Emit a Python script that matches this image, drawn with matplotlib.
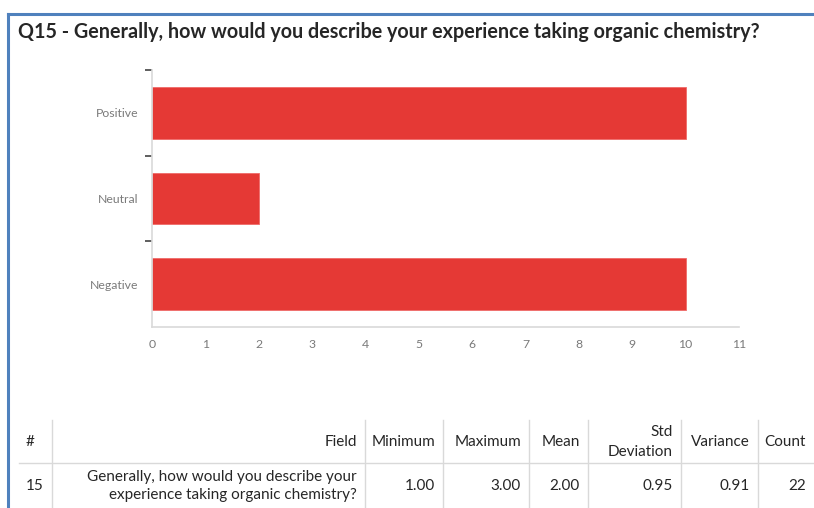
import matplotlib
matplotlib.use("Agg")
import matplotlib.pyplot as plt
from matplotlib.lines import Line2D

W, H = 814, 508

# survey answers and counts
categories = ["Negative", "Neutral", "Positive"]
counts = [10, 2, 10]
x_ticks = list(range(0, 12))

title = "Q15 - Generally, how would you describe your experience taking organic chemistry?"

# summary statistics table
col_headers = ["#", "Field", "Minimum", "Maximum", "Mean", "Std\nDeviation", "Variance", "Count"]
row_values = ["15", "Generally, how would you describe your\nexperience taking organic chemistry?",
              "1.00", "3.00", "2.00", "0.95", "0.91", "22"]

BAR_RED = "#e53935"
GRID_GRAY = "#d9d9d9"
FRAME_BLUE = "#4f81bd"
TEXT = "#262626"
FONT = "Lato"


def fx(px):
    return px / W


def fy(py):
    return 1 - py / H


fig = plt.figure(figsize=(W / 100, H / 100), dpi=100)
fig.patch.set_facecolor("white")

# blue frame on top and left
fig.add_artist(Line2D([fx(8), fx(W)], [fy(14), fy(14)], color=FRAME_BLUE, lw=2.2))
fig.add_artist(Line2D([fx(8), fx(8)], [fy(14), fy(H)], color=FRAME_BLUE, lw=2.2))

fig.text(fx(18), fy(32), title, fontsize=14.2, fontweight="bold", family=FONT,
         color=TEXT, va="center", ha="left")

# bar chart
ax = fig.add_axes([fx(152), fy(327), fx(739 - 152), (327 - 70) / H])
ax.barh(range(len(categories)), counts, height=0.6, color=BAR_RED,
        edgecolor="#ef6b68", linewidth=0.6)
ax.set_xlim(0, 11)
ax.set_ylim(-0.5, len(categories) - 0.5)

for side in ["top", "right"]:
    ax.spines[side].set_visible(False)
for side in ["left", "bottom"]:
    ax.spines[side].set_color(GRID_GRAY)
    ax.spines[side].set_linewidth(1.2)

ax.set_yticks(range(len(categories)))
ax.set_yticklabels(categories)
ax.set_yticks([i + 0.5 for i in range(len(categories))], minor=True)
ax.set_xticks(x_ticks)
ax.set_xticklabels([str(t) for t in x_ticks])
ax.set_xticks(x_ticks[1:-1], minor=True)

ax.tick_params(axis="both", which="major", length=0, labelsize=8.8,
               labelcolor="#7a7a7a")
ax.tick_params(axis="y", which="major", pad=10)
ax.tick_params(axis="x", which="major", pad=9)
ax.tick_params(axis="both", which="minor", length=5, width=1.1, color="#333333")
for lab in ax.get_xticklabels() + ax.get_yticklabels():
    lab.set_family(FONT)

# table lines
col_edges = [52, 365, 443, 529, 588, 681, 758, W]
fig.add_artist(Line2D([fx(19), fx(W)], [fy(463), fy(463)], color=GRID_GRAY, lw=1))
for x in col_edges[:-1]:
    fig.add_artist(Line2D([fx(x), fx(x)], [fy(420), fy(H)], color=GRID_GRAY, lw=1))

# table text
header_y, row_y = 442, 486
fig.text(fx(26), fy(header_y), col_headers[0], fontsize=11, family=FONT,
         color=TEXT, ha="left", va="center")
fig.text(fx(26), fy(row_y), row_values[0], fontsize=11, family=FONT,
         color=TEXT, ha="left", va="center")
for i in range(1, len(col_headers)):
    xr = fx(col_edges[i] - 8)
    fig.text(xr, fy(header_y), col_headers[i], fontsize=11, family=FONT,
             color=TEXT, ha="right", va="center", linespacing=1.5)
    fig.text(xr, fy(row_y), row_values[i], fontsize=11, family=FONT,
             color=TEXT, ha="right", va="center", linespacing=1.35)

fig.savefig("out.png", dpi=100, facecolor="white")
